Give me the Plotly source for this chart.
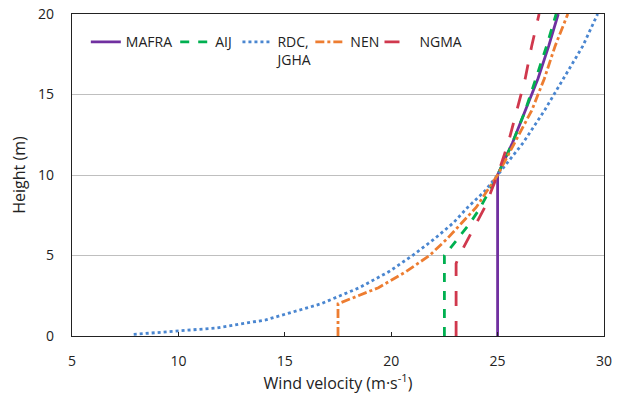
import plotly.graph_objects as go

# Heights (m) and wind velocities (m/s)
mafra_z = [0, 10, 12, 14, 16, 18, 20]
mafra_v = [25.0, 25.0, 25.7, 26.3, 26.9, 27.4, 27.85]

aij_z = [0, 5, 6, 7, 8, 9, 10, 12, 14, 16, 18, 20]
aij_v = [22.5, 22.5, 23.1, 23.7, 24.2, 24.6, 25.0, 25.7, 26.3, 26.8, 27.3, 27.75]

rdc_z = [0.1, 0.5, 1, 2, 3, 4, 5, 6, 7, 8, 9, 10, 12, 14, 16, 18, 20]
rdc_v = [7.9, 11.8, 14.1, 16.7, 18.5, 19.9, 21.0, 22.0, 22.9, 23.6, 24.4, 25.0,
         26.2, 27.2, 28.1, 29.0, 29.7]

nen_z = [0, 2, 3, 4, 5, 6, 7, 8, 9, 10, 12, 14, 16, 18, 20]
nen_v = [17.5, 17.5, 19.4, 20.7, 21.8, 22.6, 23.3, 24.0, 24.5, 25.0, 25.8, 26.6,
         27.2, 27.7, 28.3]

ngma_z = [0, 4.5, 5, 6, 7, 8, 9, 10, 12, 14, 16, 18, 20]
ngma_v = [23.05, 23.05, 23.2, 23.6, 24.0, 24.4, 24.7, 25.0, 25.5, 25.9, 26.3, 26.6, 26.95]

x_ticks = [5, 10, 15, 20, 25, 30]
y_ticks = [0, 5, 10, 15, 20]

FONT = "Open Sans"

series = [
    ("MAFRA", mafra_v, mafra_z, "#7030A0", "solid"),
    ("AIJ", aij_v, aij_z, "#00B050", "dash"),
    ("RDC,<br>JGHA", rdc_v, rdc_z, "#4A86D0", "dot"),
    ("NEN", nen_v, nen_z, "#ED7D31", "dashdot"),
    ("NGMA", ngma_v, ngma_z, "#D0384D", "longdash"),
]
# legend left edges (paper fraction), one legend box per series
legend_x = [0.026, 0.194, 0.311, 0.448, 0.578]

fig = go.Figure()
layout_legends = {}
for i, (name, v, z, color, dash) in enumerate(series):
    key = "legend" if i == 0 else f"legend{i + 1}"
    fig.add_trace(go.Scatter(
        x=v, y=z, name=name, mode="lines", legend=key,
        line=dict(color=color, width=2.8, dash=dash),
    ))
    layout_legends[key] = dict(
        x=legend_x[i], y=0.962, xanchor="left", yanchor="top",
        bgcolor="rgba(0,0,0,0)", font=dict(size=14, color="#222"),
        itemwidth=30, valign="top", borderwidth=0,
    )

fig.update_layout(
    width=620, height=394,
    margin=dict(l=72, r=16, t=14, b=58),
    paper_bgcolor="white", plot_bgcolor="white",
    font=dict(family=FONT, size=14, color="#222"),
    showlegend=True,
    xaxis=dict(
        range=[5, 30], tickvals=x_ticks, showgrid=False, zeroline=False,
        showline=True, linecolor="#222", linewidth=1.2, mirror=True,
        ticks="inside", ticklen=4, tickcolor="#222",
        ticklabelstandoff=12, automargin=False,
        title=dict(text="Wind velocity (m·s<sup>-1</sup>)", font=dict(size=16), standoff=6),
    ),
    yaxis=dict(
        range=[0, 20], tickvals=y_ticks, showgrid=True, gridcolor="#BFBFBF",
        gridwidth=1, zeroline=False,
        showline=True, linecolor="#222", linewidth=1.2, mirror=True,
        ticks="", ticklabelstandoff=14, automargin=False,
        title=dict(text="Height (m)", font=dict(size=16), standoff=8),
    ),
    **layout_legends,
)

fig.write_html("out.html")
